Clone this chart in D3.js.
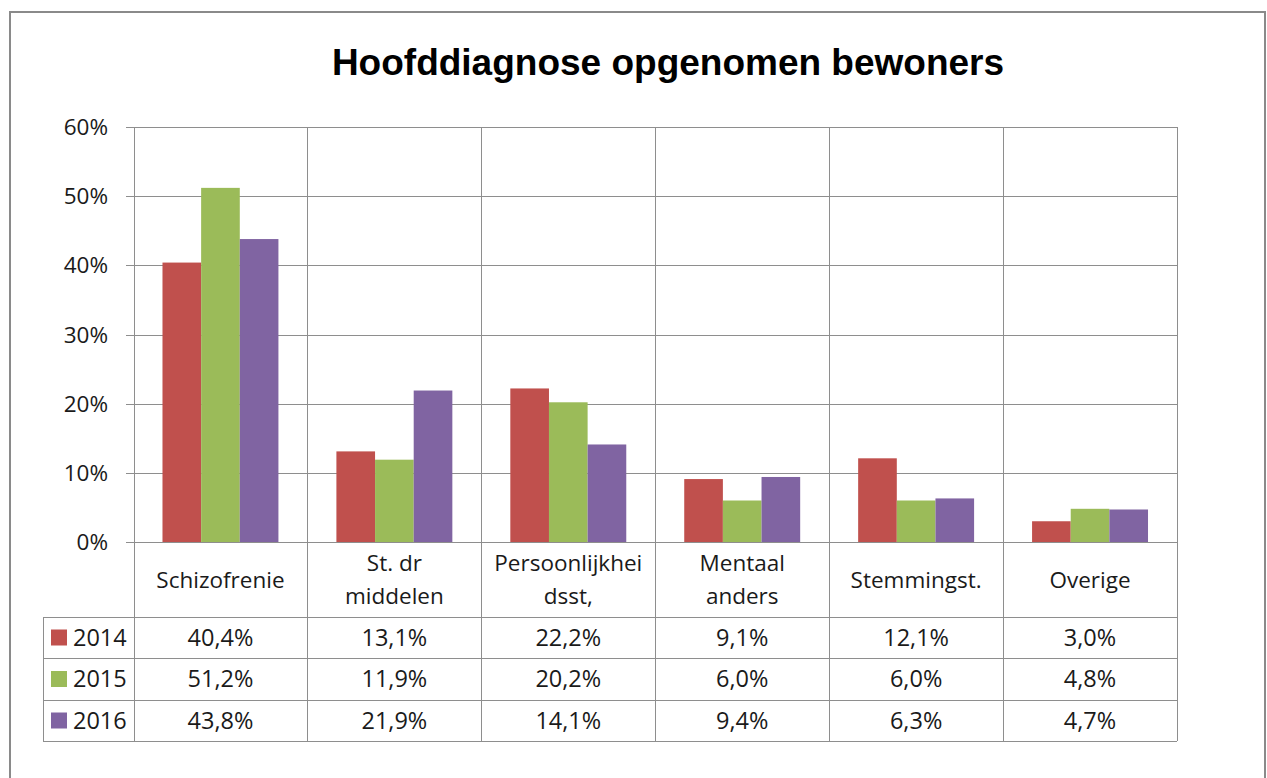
<!DOCTYPE html>
<html>
<head>
<meta charset="utf-8">
<title>Hoofddiagnose opgenomen bewoners</title>
<script src="https://cdn.jsdelivr.net/npm/d3@7"></script>
<style>
    body { margin: 0; background: #fff; }
    text { font-family: "Open Sans", Lato, sans-serif; fill: #1a1a1a; }
    .title { font-family: "Liberation Sans", Arial, sans-serif; font-weight: bold; font-size: 37px; fill: #000; }
    .grid { stroke: #8e8e8e; stroke-width: 1.4; shape-rendering: crispEdges; }
</style>
</head>
<body>
<script>
    var categories = [["Schizofrenie"], ["St. dr", "middelen"], ["Persoonlijkhei", "dsst,"], ["Mentaal", "anders"], ["Stemmingst."], ["Overige"]];
    var years = ["2014", "2015", "2016"];
    var values2014 = [40.4, 13.1, 22.2, 9.1, 12.1, 3.0];
    var values2015 = [51.2, 11.9, 20.2, 6.0, 6.0, 4.8];
    var values2016 = [43.8, 21.9, 14.1, 9.4, 6.3, 4.7];
    var yTicks = [0, 10, 20, 30, 40, 50, 60];
    var colors = ["#c0504d", "#9bbb59", "#8064a2"];

    (function () {
        var series = [values2014, values2015, values2016];
        var width = 1267, height = 778;

        var svg = d3.select("body").append("svg").attr("width", width).attr("height", height);

        // outer chart frame
        svg.append("rect").attr("x", 10).attr("y", 12).attr("width", 1255).attr("height", 780)
            .attr("fill", "none").attr("stroke", "#8a8a8a").attr("stroke-width", 2);

        svg.append("text").attr("class", "title").attr("x", 668).attr("y", 75)
            .attr("text-anchor", "middle").text("Hoofddiagnose opgenomen bewoners");

        var left = 133.5, right = 1177, plotTop = 127, zero = 542;
        var rowLines = [617, 658, 700, 741];
        var tableLeft = 43;

        var x0 = d3.scaleBand().domain(d3.range(categories.length)).range([left, right]).padding(0);
        var x1 = d3.scaleBand().domain(years).range([0, x0.bandwidth()]).paddingInner(0).paddingOuter(0.75);
        var y = d3.scaleLinear().domain([0, 60]).range([zero, plotTop]);

        var nl = d3.formatLocale({ decimal: ",", thousands: ".", grouping: [3], currency: ["€", ""] });
        var fmt = nl.format(".1f");

        // horizontal gridlines + ticks
        svg.append("g").selectAll("line").data(yTicks).join("line").attr("class", "grid")
            .attr("x1", left - 8).attr("x2", right)
            .attr("y1", d => Math.round(y(d)) + 0.5).attr("y2", d => Math.round(y(d)) + 0.5);

        svg.append("g").selectAll("text").data(yTicks).join("text")
            .attr("x", 108).attr("y", d => y(d)).attr("dy", "0.36em")
            .attr("text-anchor", "end").style("font-size", "22.5px")
            .text(d => d + "%");

        // vertical category lines through plot and table
        var bounds = x0.domain().map(i => x0(i)).concat([right]);
        svg.append("g").selectAll("line").data(bounds).join("line").attr("class", "grid")
            .attr("x1", d => Math.round(d) + 0.5).attr("x2", d => Math.round(d) + 0.5)
            .attr("y1", plotTop).attr("y2", rowLines[rowLines.length - 1]);

        // table lines
        svg.append("g").selectAll("line").data(rowLines).join("line").attr("class", "grid")
            .attr("x1", tableLeft).attr("x2", right)
            .attr("y1", d => d + 0.5).attr("y2", d => d + 0.5);
        svg.append("line").attr("class", "grid")
            .attr("x1", tableLeft + 0.5).attr("x2", tableLeft + 0.5)
            .attr("y1", rowLines[0]).attr("y2", rowLines[rowLines.length - 1]);

        // bars
        var groups = svg.append("g").selectAll("g").data(categories).join("g")
            .attr("transform", (d, i) => "translate(" + x0(i) + ",0)");
        groups.selectAll("rect").data((d, i) => years.map((yr, s) => ({ yr: yr, s: s, v: series[s][i] })))
            .join("rect")
            .attr("x", d => x1(d.yr)).attr("width", x1.bandwidth())
            .attr("y", d => y(d.v)).attr("height", d => zero - y(d.v))
            .attr("fill", d => colors[d.s]);

        // category labels
        var labels = svg.append("g").selectAll("text").data(categories).join("text")
            .attr("text-anchor", "middle").style("font-size", "22.5px")
            .attr("x", (d, i) => x0(i) + x0.bandwidth() / 2);
        labels.each(function (d) {
            var t = d3.select(this);
            var mid = (zero + rowLines[0]) / 2;
            var lh = 33;
            d.forEach(function (line, k) {
                t.append("tspan").attr("x", t.attr("x"))
                    .attr("y", mid + (k - (d.length - 1) / 2) * lh).attr("dy", "0.36em").text(line);
            });
        });

        // data table rows
        years.forEach(function (yr, s) {
            var cy = (rowLines[s] + rowLines[s + 1]) / 2;
            svg.append("rect").attr("x", 51).attr("y", cy - 8).attr("width", 16).attr("height", 16)
                .attr("fill", colors[s]);
            svg.append("text").attr("x", 73).attr("y", cy).attr("dy", "0.36em")
                .style("font-size", "23.5px").text(yr);
            svg.append("g").selectAll("text").data(series[s]).join("text")
                .attr("x", (d, i) => x0(i) + x0.bandwidth() / 2).attr("y", cy).attr("dy", "0.36em")
                .attr("text-anchor", "middle").style("font-size", "23.5px")
                .text(d => fmt(d) + "%");
        });
    })();
</script>
</body>
</html>
